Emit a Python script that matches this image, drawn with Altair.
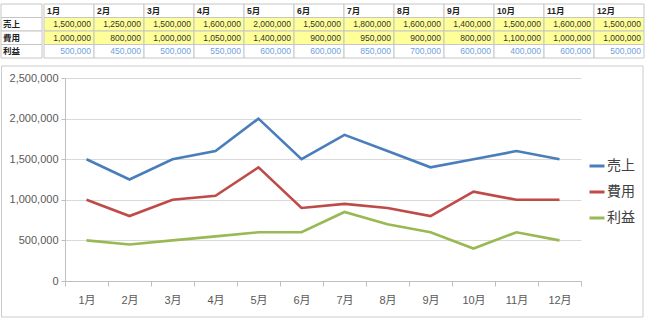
import altair as alt
import pandas as pd

months = ["1月", "2月", "3月", "4月", "5月", "6月", "7月", "8月", "9月", "10月", "11月", "12月"]
series = ["売上", "費用", "利益"]
sales = [1500000, 1250000, 1500000, 1600000, 2000000, 1500000, 1800000, 1600000, 1400000, 1500000, 1600000, 1500000]
cost = [1000000, 800000, 1000000, 1050000, 1400000, 900000, 950000, 900000, 800000, 1100000, 1000000, 1000000]
profit = [500000, 450000, 500000, 550000, 600000, 600000, 850000, 700000, 600000, 400000, 600000, 500000]
y_ticks = [0, 500000, 1000000, 1500000, 2000000, 2500000]
row_keys = ["header", "売上", "費用", "利益"]
series_colors = ["#4a7ebb", "#be4b48", "#98b954"]

FONT = "Liberation Sans, Noto Sans CJK JP"
GRID = "#c6c6c6"

recs = []
for i, m in enumerate(months):
    for s, vals in zip(series, [sales, cost, profit]):
        recs.append({"month": m, "series": s, "row": s, "value": vals[i], "label": f"{vals[i]:,}"})
df = pd.DataFrame(recs)
cells = pd.DataFrame([{"month": m, "row": r} for m in months for r in row_keys])
header = pd.DataFrame({"month": months, "row": ["header"] * len(months)})
labels_df = pd.DataFrame({"row": row_keys, "label": ["", "売上", "費用", "利益"]})

row_scale = alt.Scale(domain=row_keys, paddingInner=0, paddingOuter=0)
col_scale = alt.Scale(domain=months, paddingInner=0, paddingOuter=0)
row_y = alt.Y("row:N", scale=row_scale, axis=None)

# ---- table: label column
lab_rect = alt.Chart(labels_df).mark_rect(fill="white", stroke=GRID, strokeWidth=1).encode(y=row_y)
lab_text = alt.Chart(labels_df).mark_text(
    align="left", fontWeight="bold", fontSize=8.5, font=FONT, color="#222222"
).encode(x=alt.value(2), y=row_y, text="label:N")
label_panel = alt.layer(lab_rect, lab_text).properties(width=41, height=54)

# ---- table: month columns
cell_rect = alt.Chart(cells).mark_rect(stroke=GRID, strokeWidth=1).encode(
    x=alt.X("month:N", scale=col_scale, axis=None),
    y=row_y,
    fill=alt.Fill("row:N", scale=alt.Scale(domain=row_keys, range=["#ffffff", "#ffff99", "#ffff99", "#ffffff"]), legend=None),
)
head_text = alt.Chart(header).mark_text(
    align="left", dx=3, fontWeight="bold", fontSize=8.5, font=FONT, color="#222222"
).encode(x=alt.X("month:N", scale=col_scale, axis=None, bandPosition=0), y=row_y, text="month:N")
val_text = alt.Chart(df).transform_filter("datum.row != '利益'").mark_text(
    align="right", dx=-3, fontSize=8.5, font=FONT, color="#333333"
).encode(x=alt.X("month:N", scale=col_scale, axis=None, bandPosition=1), y=row_y, text="label:N")
prof_text = alt.Chart(df).transform_filter("datum.row == '利益'").mark_text(
    align="right", dx=-3, fontSize=8.5, font=FONT, color="#6f9fe0"
).encode(x=alt.X("month:N", scale=col_scale, axis=None, bandPosition=1), y=row_y, text="label:N")
month_panel = alt.layer(cell_rect, head_text, val_text, prof_text).properties(width=600, height=54)

table = alt.hconcat(label_panel, month_panel, spacing=0)

# ---- line chart (its group starts at the left edge, like the table; plot range inset)
x_enc = alt.X(
    "month:N",
    scale=alt.Scale(type="band", domain=months, paddingInner=0, paddingOuter=0, range=[64, 580]),
    bandPosition=0.5,
    axis=alt.Axis(
        title=None, labelAngle=0, tickBand="extent", tickSize=5, labelPadding=8,
        domainColor="#bfbfbf", tickColor="#bfbfbf", labelColor="#595959",
        labelFontSize=11, labelFont=FONT, grid=False,
    ),
)
y_enc = alt.Y(
    "value:Q",
    scale=alt.Scale(domain=[0, 2500000], nice=False),
    axis=alt.Axis(
        title=None, values=y_ticks, format=",.0f", tickSize=4, labelPadding=3, offset=-64,
        tickColor="#bfbfbf", domainColor="#bfbfbf", gridColor="#d9d9d9",
        labelColor="#595959", labelFontSize=11, labelFont=FONT,
    ),
)
color_enc = alt.Color(
    "series:N",
    scale=alt.Scale(domain=series, range=series_colors),
    legend=alt.Legend(
        title=None, orient="none", legendX=587, legendY=79, symbolType="stroke",
        symbolSize=225, symbolStrokeWidth=3, labelFontSize=14, labelFont="Noto Sans CJK JP",
        labelColor="#404040", rowPadding=10, labelOffset=1,
    ),
)
lines = alt.Chart(df).mark_line(strokeWidth=2.6).encode(x=x_enc, y=y_enc, color=color_enc, detail="series:N")
frame = alt.Chart(pd.DataFrame({"k": [0]})).mark_rect(fill="transparent", stroke="#cccccc", strokeWidth=1).encode(
    x=alt.value(0.5), x2=alt.value(642), y=alt.value(-12), y2=alt.value(239)
)
line_chart = alt.layer(frame, lines).properties(width=580, height=203)

chart = alt.vconcat(table, line_chart, spacing=6).properties(
    padding={"left": 0, "top": 3, "right": 0, "bottom": 0}
).configure_view(stroke=None).resolve_scale(color="independent", x="independent", y="independent")

chart.save("out.html", embed_options={"renderer": "svg", "actions": False})
